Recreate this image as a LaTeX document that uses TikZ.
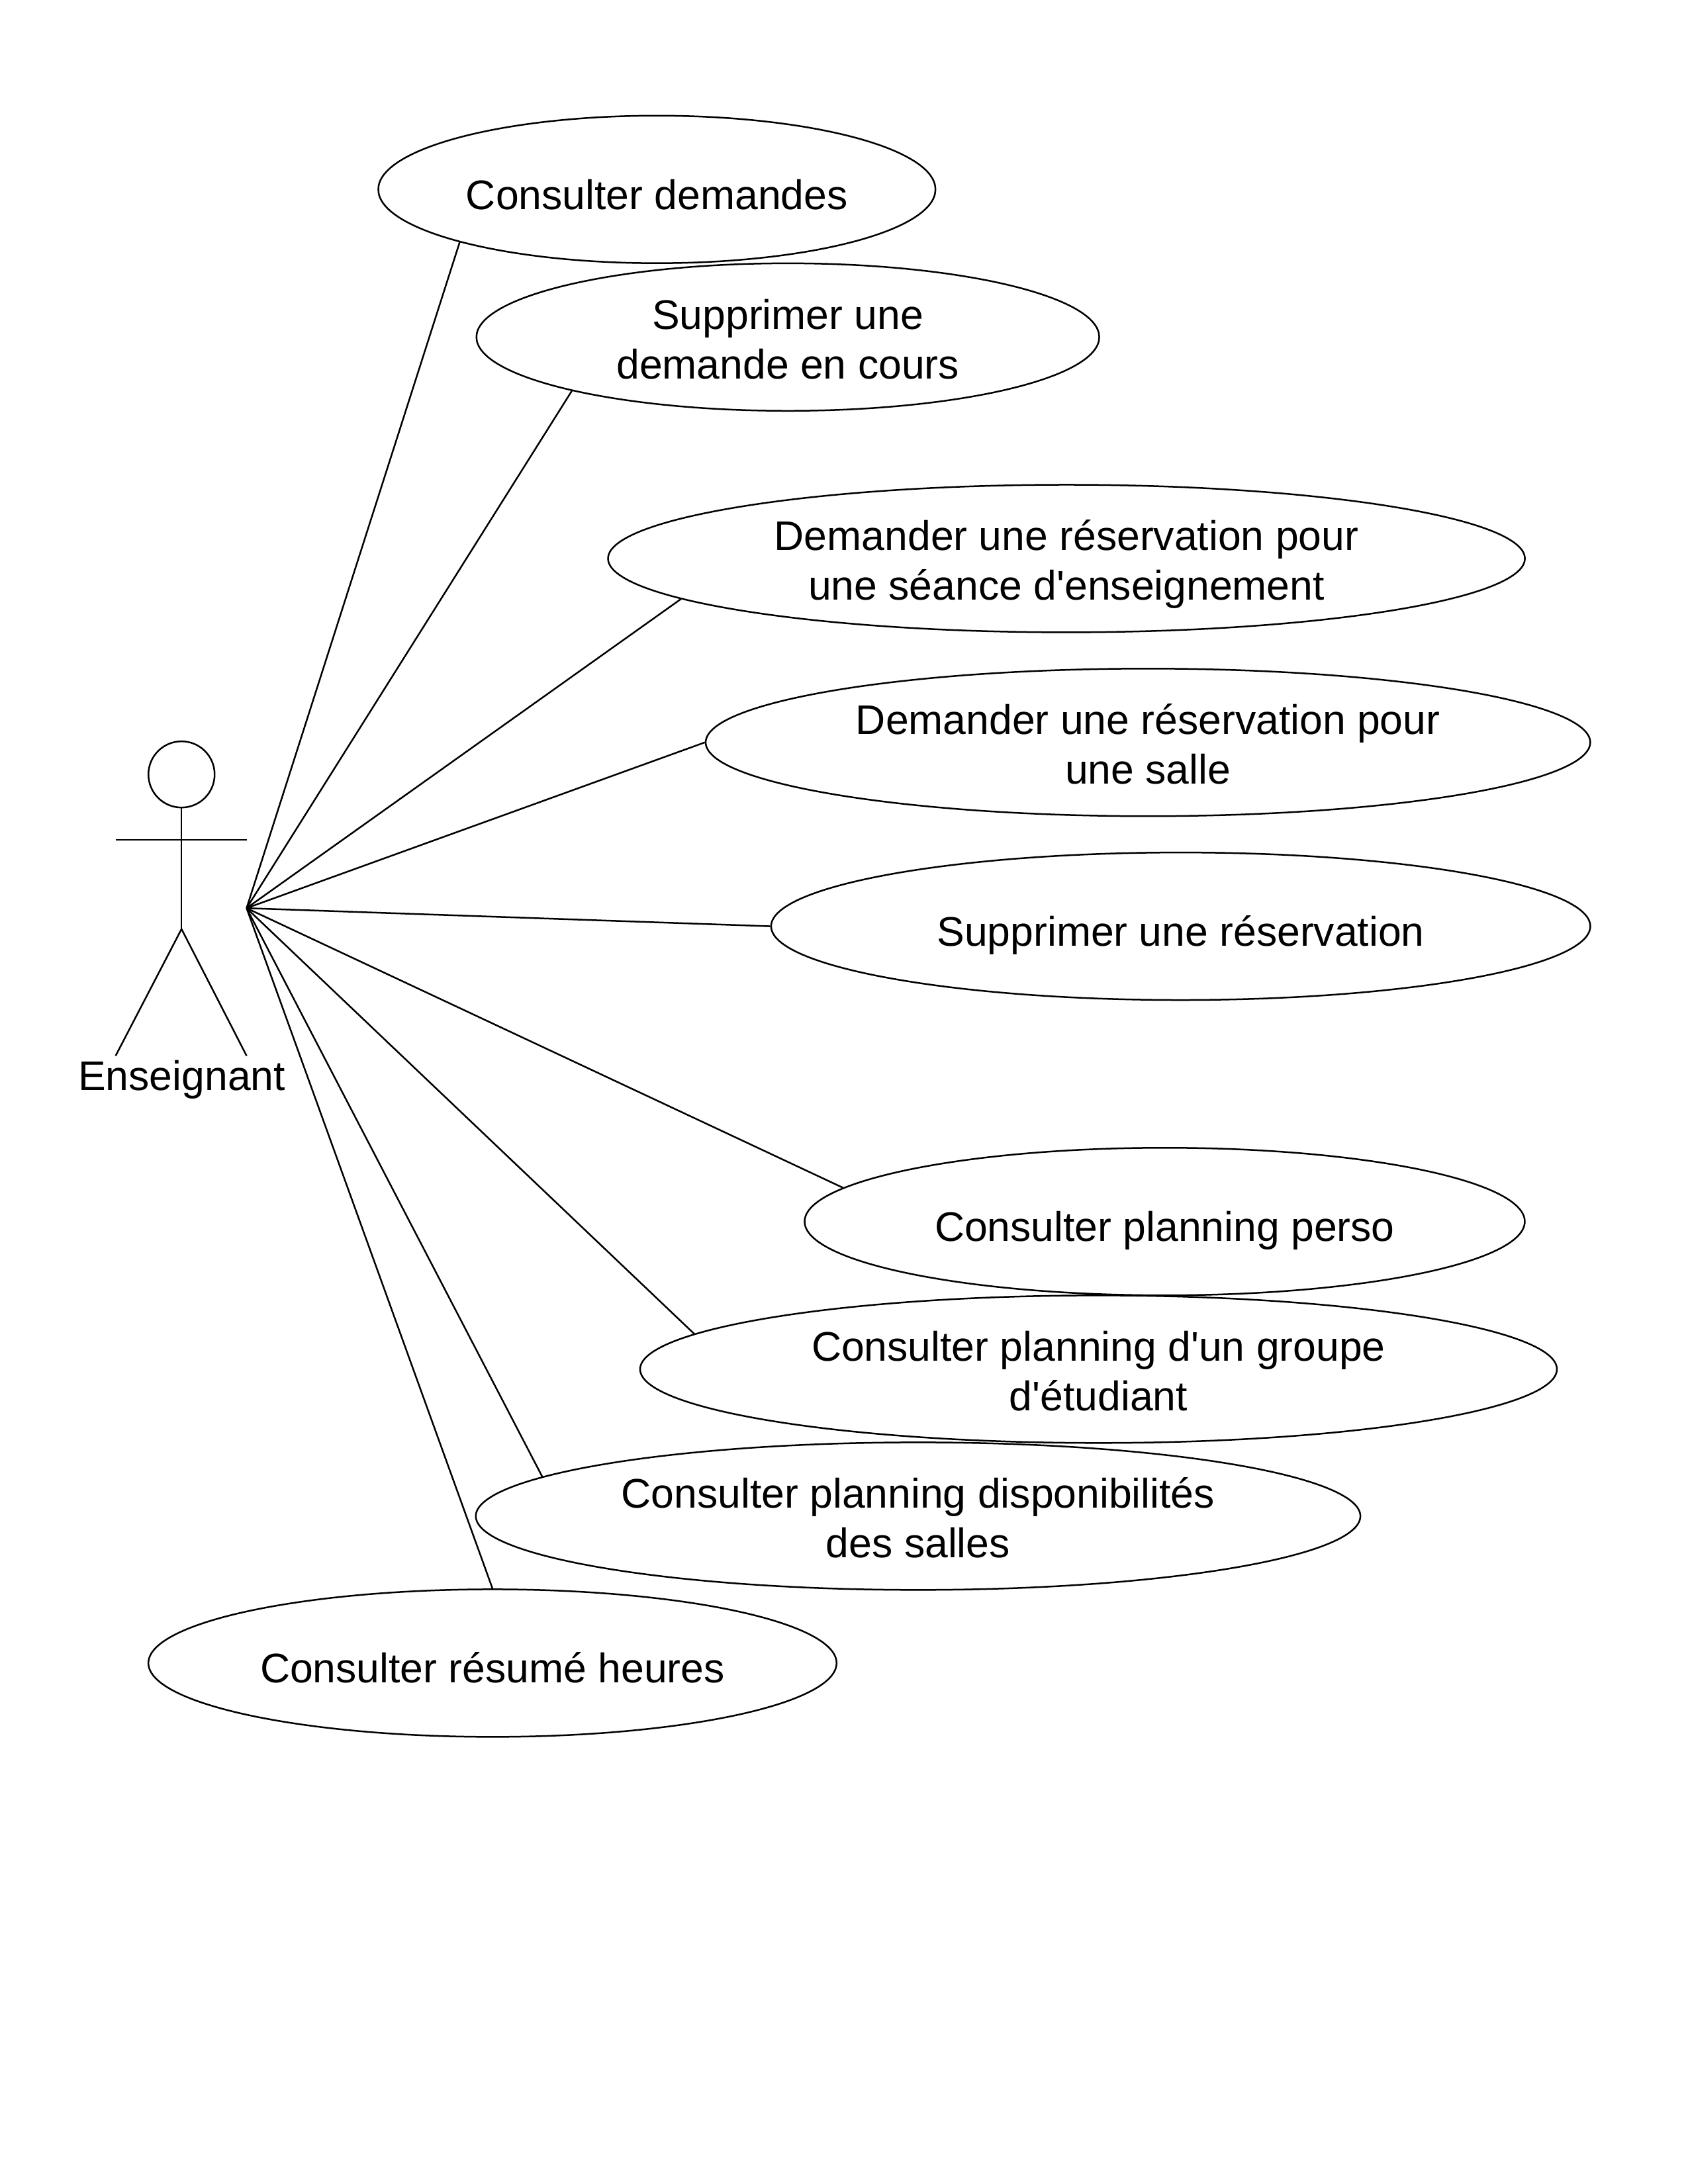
\documentclass[tikz,border=0pt]{standalone}
\usepackage{fontspec}
\setmainfont{Liberation Sans}
\usetikzlibrary{shapes.geometric}
\tikzset{
  usecase/.style={draw, ellipse, inner sep=0pt, align=center, minimum height=53.5pt, font=\fontsize{15}{18}\selectfont},
  oneline/.style={text height=17.5pt, text depth=3.2pt},
  twolines/.style={text height=30.2pt, text depth=0pt},
  assoc/.style={draw},
}
\begin{document}
\begin{tikzpicture}[x=0.5051pt,y=-0.5051pt,line width=0.6pt]
    \useasboundingbox (0,0) rectangle (1211.6,1568);

    % Draw the actor
    \node[draw, circle, inner sep=0pt, minimum size=24pt] (head) at (130.3,556) {};
    \coordinate (hip) at (130.3,667);
    \coordinate (armL) at (83,603);
    \coordinate (armR) at (177,603);
    \coordinate (footL) at (83,758);
    \coordinate (footR) at (177,758);
    \coordinate (hand) at (177,652);
    \draw (head.south) -- (hip);
    \draw (armL) -- (armR);
    \draw (footL) -- (hip) -- (footR);
    \node[font=\fontsize{15}{18}\selectfont] (actor) at (130.5,775) {Enseignant};

    % Use cases
    \node[usecase, oneline, minimum width=202pt] (demandes) at (471.5,136) {Consulter demandes};
    \node[usecase, twolines, minimum width=225.8pt] (supprDemande) at (565.5,242) {Supprimer une\\demande en cours};
    \node[usecase, twolines, minimum width=332.4pt] (seance) at (765.5,401) {Demander une réservation pour\\une séance d\textquotesingle enseignement};
    \node[usecase, twolines, minimum width=320.7pt] (salle) at (824,533) {Demander une réservation pour\\une salle};
    \node[usecase, oneline, minimum width=297pt] (supprResa) at (847.5,665) {Supprimer une réservation};
    \node[usecase, oneline, minimum width=261.1pt] (perso) at (836,877) {Consulter planning perso};
    \node[usecase, twolines, minimum width=332.4pt] (groupe) at (788.5,983) {Consulter planning d\textquotesingle un groupe\\d\textquotesingle étudiant};
    \node[usecase, twolines, minimum width=320.7pt] (dispo) at (659,1088.5) {Consulter planning disponibilités\\des salles};
    \node[usecase, oneline, minimum width=249.5pt] (heures) at (353.5,1194) {Consulter résumé heures};

    % Associations from the actor
    \draw[assoc] (hand) -- (demandes.195);
    \draw[assoc] (hand) -- (supprDemande.194.7);
    \draw[assoc] (hand) -- (seance.186.5);
    \draw[assoc] (hand) -- (salle.west);
    \draw[assoc] (hand) -- (supprResa.west);
    \draw[assoc] (hand) -- (perso.174.85);
    \draw[assoc] (hand) -- (groupe.175.8);
    \draw[assoc] (hand) -- (dispo.174.2);
    \draw[assoc] (hand) -- (heures.north);
\end{tikzpicture}
\end{document}
